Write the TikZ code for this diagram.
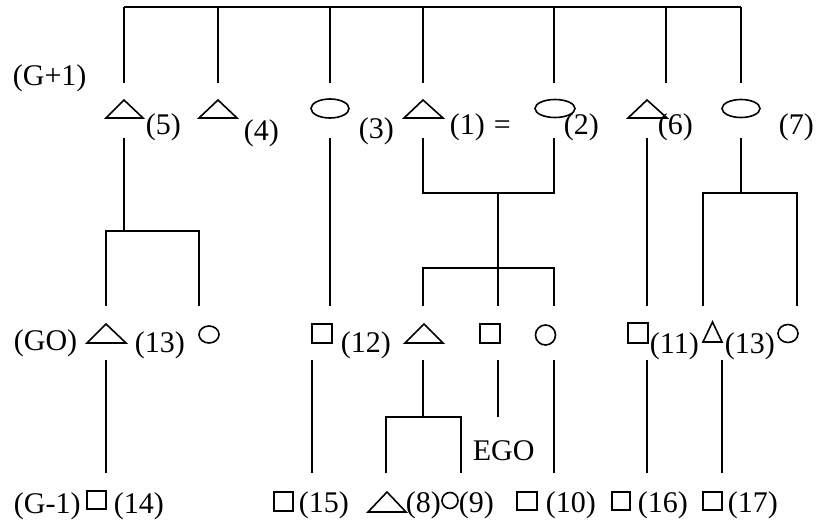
\documentclass[tikz,border=0pt]{standalone}
\usepackage{fontspec}
\setmainfont{Liberation Serif}
\usepackage{tikz}
\usetikzlibrary{arrows}

\begin{document}
\begin{tikzpicture}[line cap=butt,line join=miter,x=1pt,y=-1pt,
  line width=1.8pt,
  lbl/.style={anchor=base west,inner sep=0pt,font=\fontsize{30}{36}\selectfont},
  sym/.style={line width=1.6pt}]
\useasboundingbox (0,0) rectangle (816,524);
% top bar and drops to G+1
\draw (124,7) -- (741,7);
\foreach \x in {124,218,330,423,554,666,741}
  \draw (\x,7) -- (\x,83);
% G+1 symbols
\draw [sym] (106,118) -- (124,100) -- (143,118) -- cycle;
\draw [sym] (199,118) -- (218,100) -- (237,118) -- cycle;
\draw [sym] (330,108.5) ellipse (19 and 9.5);
\draw [sym] (404,118) -- (423,100) -- (443,118) -- cycle;
\draw [sym] (555,108.5) ellipse (20 and 9);
\draw [sym] (628,118) -- (647,100) -- (667,118) -- cycle;
\draw [sym] (741,108.5) ellipse (19 and 9);
\node [lbl] (g1) at (12,86) {(G+1)};
\node [lbl] (n5) at (145,135) {(5)};
\node [lbl] (n4) at (243,140) {(4)};
\node [lbl] (n3) at (358,139) {(3)};
\node [lbl] (n1) at (449,135) {(1)};
\node [lbl] (eq) at (493,135) {=};
\node [lbl] (n2) at (563,135) {(2)};
\node [lbl] (n6) at (657,135) {(6)};
\node [lbl] (n7) at (778,135) {(7)};
% descent G+1 -> G0
\draw (124,138) -- (124,231);
\draw (106,306) |- (199,231) -- (199,306);
\draw (330,138) -- (330,306);
\draw (423,138) |- (554,193) -- (554,138);
\draw (498,193) -- (498,268);
\draw (423,306) |- (554,268) -- (554,306);
\draw (498,268) -- (498,306);
\draw (647,138) -- (647,306);
\draw (741,138) -- (741,193);
\draw (703,306) |- (797,193) -- (797,306);
% G0 symbols
\draw [sym] (87,343) -- (106,324) -- (126,343) -- cycle;
\draw [sym] (209,334.5) ellipse (10 and 8.5);
\draw [sym] (312,324) rectangle (332,343);
\draw [sym] (405,343) -- (424,324) -- (443,343) -- cycle;
\draw [sym] (480,324) rectangle (500,343);
\draw [sym] (545.5,335) circle (10);
\draw [sym] (628,323) rectangle (648,343);
\draw [sym] (703,342) -- (712.5,322) -- (722,342) -- cycle;
\draw [sym] (788,333.5) ellipse (10 and 9);
\node [lbl] (g0) at (13,350) {(GO)};
\node [lbl] (n13a) at (134,352) {(13)};
\node [lbl] (n12) at (340,352) {(12)};
\node [lbl] (n11) at (649,353) {(11)};
\node [lbl] (n13b) at (724,353) {(13)};
% descent G0 -> G-1
\draw (106,360) -- (106,473);
\draw (312,360) -- (312,473);
\draw (423,360) -- (423,417);
\draw (386,473) |- (461,417) -- (461,473);
\draw (498,360) -- (498,417);
\draw (554,360) -- (554,473);
\draw (647,360) -- (647,473);
\draw (722,360) -- (722,473);
\node [lbl] (ego) at (472,460) {EGO};
% G-1 symbols
\draw [sym] (87,491) rectangle (106,509);
\draw [sym] (274,492) rectangle (293,511);
\draw [sym] (368,512) -- (387,492) -- (406,512) -- cycle;
\draw [sym] (450,500.5) circle (8);
\draw [sym] (517,492) rectangle (537,510);
\draw [sym] (612,492) rectangle (630,510);
\draw [sym] (703,492) rectangle (722,510);
\node [lbl] (gm1) at (13,513) {(G-1)};
\node [lbl] (n14) at (113,513) {(14)};
\node [lbl] (n15) at (298,512) {(15)};
\node [lbl] (n8) at (405,512) {(8)};
\node [lbl] (n9) at (458,512) {(9)};
\node [lbl] (n10) at (545,512) {(10)};
\node [lbl] (n16) at (637,512) {(16)};
\node [lbl] (n17) at (727,512) {(17)};
\end{tikzpicture}
\end{document}
